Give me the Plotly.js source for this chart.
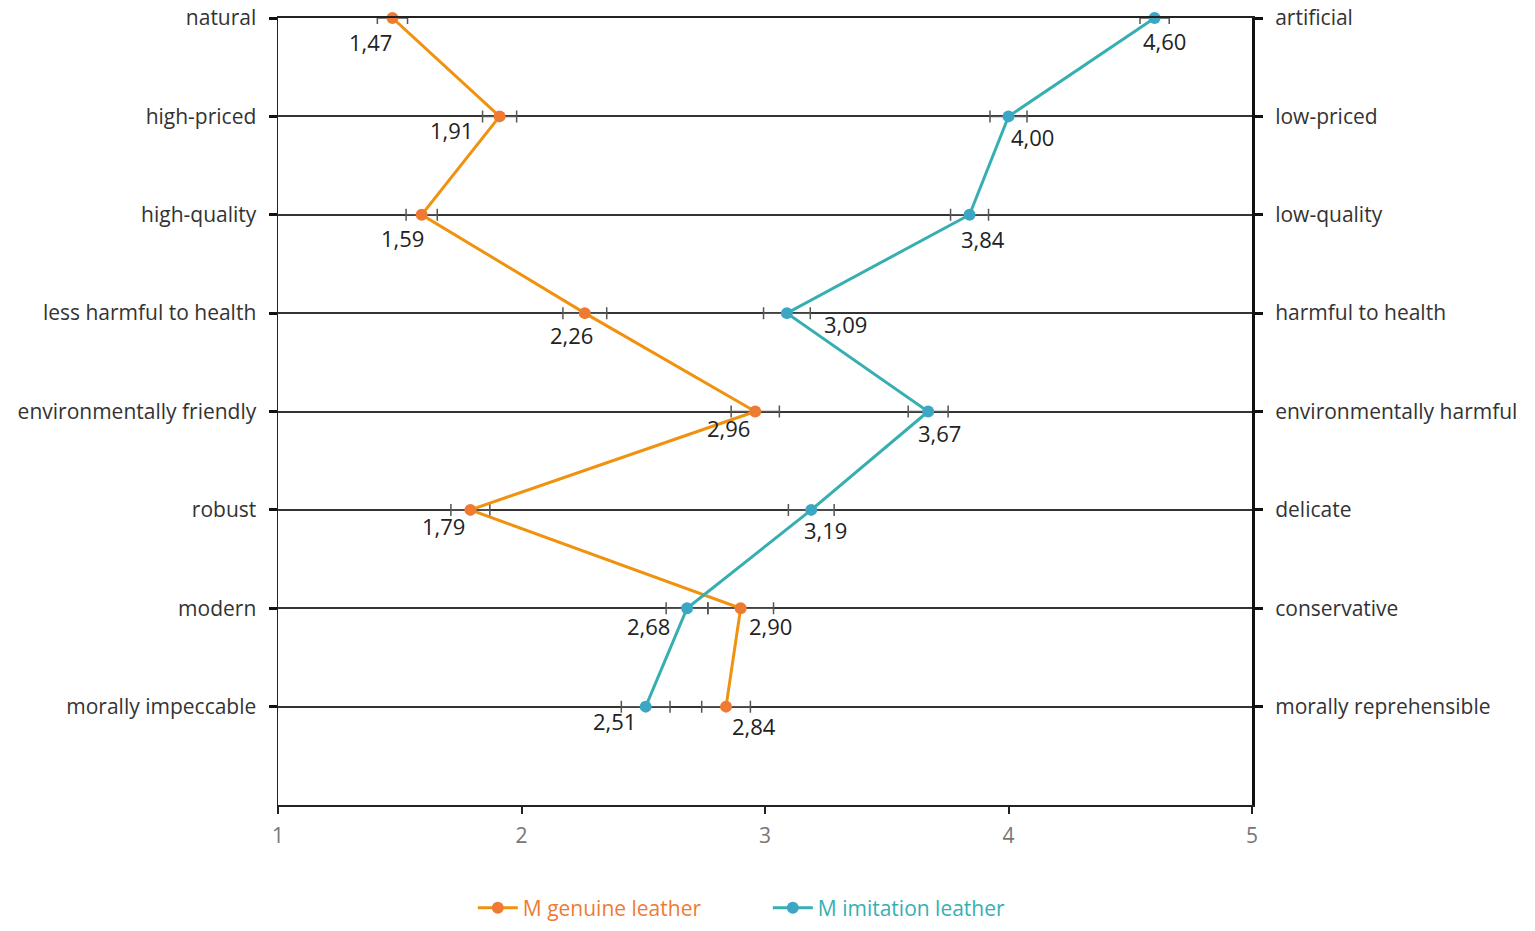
<!DOCTYPE html>
<html>
<head>
<meta charset="utf-8">
<script src="https://cdn.plot.ly/plotly-3.0.1.min.js"></script>
<style>html,body{margin:0;padding:0;background:#fff;}#chart{width:1535px;height:931px;}</style>
</head>
<body>
<div id="chart"></div>
<script>
// Data
const leftLabels = ["natural","high-priced","high-quality","less harmful to health","environmentally friendly","robust","modern","morally impeccable"];
const rightLabels = ["artificial","low-priced","low-quality","harmful to health","environmentally harmful","delicate","conservative","morally reprehensible"];
const genuine = [1.47, 1.91, 1.59, 2.26, 2.96, 1.79, 2.90, 2.84];
const imitation = [4.60, 4.00, 3.84, 3.09, 3.67, 3.19, 2.68, 2.51];
const genuineErr = [0.062, 0.07, 0.064, 0.09, 0.099, 0.08, 0.135, 0.10];
const imitationErr = [0.06, 0.076, 0.078, 0.096, 0.082, 0.094, 0.086, 0.10];
const xTicks = [1, 2, 3, 4, 5];

// Label offsets (style)
const genShift = [[-22,24],[-48,14],[-19,23],[-13,22],[-27,16],[-27,16],[30,18],[28,19]];
const imiShift = [[10,23],[24,21],[13,24],[59,11],[11,21],[14,20],[-39,18],[-31,14]];

const n = leftLabels.length;
const yPos = leftLabels.map((_, i) => n - i);

const orangeLine = "#F0920F", orangeDot = "#EF7B33";
const tealLine = "#37AFB2", tealDot = "#3BA7C4";

const traces = [
  {
    x: genuine, y: yPos, type: "scatter", mode: "lines+markers",
    name: '<span style="color:' + orangeDot + '">M genuine leather</span>',
    line: {color: orangeLine, width: 3},
    marker: {color: orangeDot, size: 12},
    error_x: {type: "data", array: genuineErr, color: "#555", thickness: 1.5, width: 6},
    cliponaxis: false
  },
  {
    x: imitation, y: yPos, type: "scatter", mode: "lines+markers",
    name: '<span style="color:' + tealLine + '">M imitation leather</span>',
    line: {color: tealLine, width: 3},
    marker: {color: tealDot, size: 12},
    error_x: {type: "data", array: imitationErr, color: "#555", thickness: 1.5, width: 6},
    cliponaxis: false
  },
  {
    x: [1], y: [0], yaxis: "y2", type: "scatter", mode: "markers",
    marker: {opacity: 0}, showlegend: false, hoverinfo: "skip"
  }
];

const fmt = v => v.toFixed(2).replace(".", ",");
const labelFont = {family: "Open Sans, Liberation Sans, sans-serif", size: 22, color: "#222"};
const annotations = [];
genuine.forEach((v, i) => annotations.push({
  x: v, y: yPos[i], xref: "x", yref: "y", text: fmt(v), showarrow: false,
  xanchor: "center", yanchor: "middle", xshift: genShift[i][0], yshift: -genShift[i][1],
  font: labelFont
}));
imitation.forEach((v, i) => annotations.push({
  x: v, y: yPos[i], xref: "x", yref: "y", text: fmt(v), showarrow: false,
  xanchor: "center", yanchor: "middle", xshift: imiShift[i][0], yshift: -imiShift[i][1],
  font: labelFont
}));

const catFont = {family: "Open Sans, DejaVu Sans, sans-serif", size: 21, color: "#333"};

const layout = {
  width: 1535, height: 931,
  margin: {l: 278, r: 283, t: 18, b: 126, autoexpand: false},
  paper_bgcolor: "#fff", plot_bgcolor: "#fff",
  showlegend: true,
  legend: {
    orientation: "h", x: 0.2, xanchor: "left", y: -0.131, yanchor: "middle",
    font: {family: "Open Sans, DejaVu Sans, sans-serif", size: 21},
    itemwidth: 40, traceorder: "normal", entrywidth: 240, entrywidthmode: "pixels"
  },
  xaxis: {
    range: [1, 5], tickvals: xTicks, ticktext: xTicks.map(String),
    showgrid: false, zeroline: false,
    showline: true, mirror: true, linecolor: "#222", linewidth: 2,
    ticks: "outside", ticklen: 7, tickwidth: 2, tickcolor: "#222",
    tickfont: {family: "Open Sans, DejaVu Sans, sans-serif", size: 21, color: "#777"},
    ticklabelstandoff: 4,
    fixedrange: true
  },
  yaxis: {
    range: [0, n], tickvals: yPos, ticktext: leftLabels,
    showgrid: true, gridcolor: "#333", gridwidth: 2,
    zeroline: false, showline: true, linecolor: "#222", linewidth: 1.5,
    ticks: "outside", ticklen: 8, tickwidth: 3, tickcolor: "#111",
    tickfont: catFont, ticklabelstandoff: 8, fixedrange: true
  },
  yaxis2: {
    overlaying: "y", side: "right", anchor: "x",
    range: [0, n], tickvals: yPos, ticktext: rightLabels,
    showgrid: false, zeroline: false, showline: true, linecolor: "#111", linewidth: 3,
    ticks: "outside", ticklen: 8, tickwidth: 3, tickcolor: "#111",
    tickfont: catFont, ticklabelstandoff: 8, fixedrange: true
  },
  annotations: annotations
};

Plotly.newPlot("chart", traces, layout, {displayModeBar: false, staticPlot: true});
</script>
</body>
</html>
